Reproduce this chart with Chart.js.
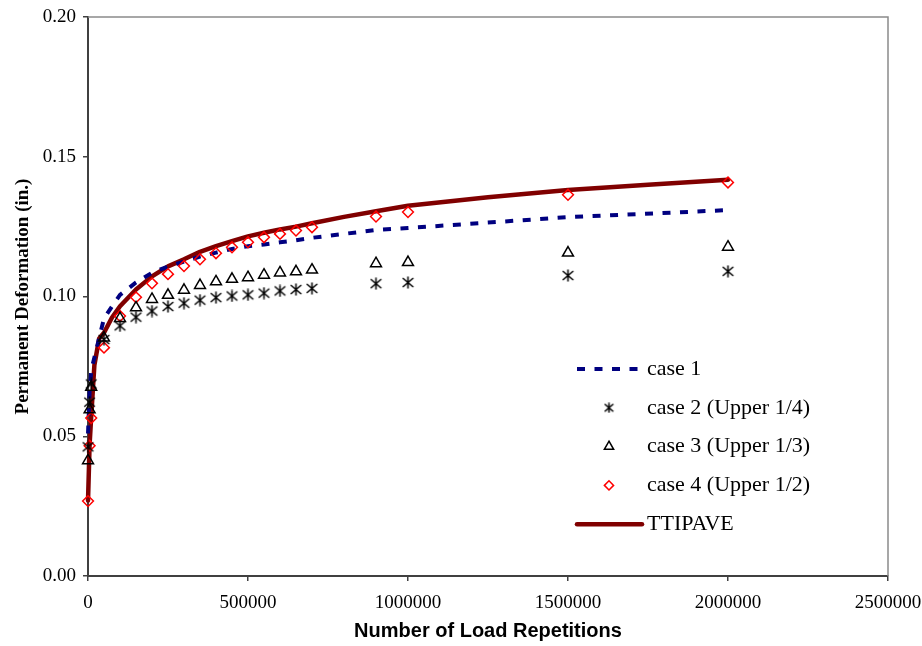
<!DOCTYPE html>
<html>
<head>
<meta charset="utf-8">
<script src="https://cdn.jsdelivr.net/npm/chart.js@4.4.1/dist/chart.umd.min.js"></script>
<style>
  html, body { margin: 0; padding: 0; background: #ffffff; }
  #wrap { width: 922px; height: 646px; position: relative; }
</style>
</head>
<body>
<div id="wrap"><canvas id="chart" width="922" height="646"></canvas></div>
<script>
// Load repetitions at which the permanent deformation was measured
const loadReps = [100, 5000, 10000, 50000, 100000, 150000, 200000, 250000, 300000, 350000,
  400000, 450000, 500000, 550000, 600000, 650000, 700000, 900000, 1000000, 1500000, 2000000];

// Permanent deformation (in.) for each case
const case1 = [0.0510, 0.0660, 0.0735, 0.0922, 0.1006, 0.1050, 0.1085, 0.1107, 0.1125, 0.1143,
  0.1157, 0.1170, 0.1180, 0.1186, 0.1194, 0.1201, 0.1210, 0.1238, 0.1245, 0.1284, 0.1309];
const case2 = [0.0462, 0.0622, 0.0687, 0.0846, 0.0895, 0.0926, 0.0948, 0.0964, 0.0976, 0.0987,
  0.0996, 0.1002, 0.1006, 0.1012, 0.1020, 0.1025, 0.1029, 0.1046, 0.1050, 0.1075, 0.1090];
const case3 = [0.0413, 0.0595, 0.0676, 0.0852, 0.0922, 0.0960, 0.0990, 0.1005, 0.1023, 0.1040,
  0.1053, 0.1062, 0.1068, 0.1077, 0.1085, 0.1089, 0.1095, 0.1118, 0.1122, 0.1156, 0.1177];
const case4 = [0.0268, 0.0466, 0.0565, 0.0817, 0.0930, 0.0997, 0.1047, 0.1080, 0.1109, 0.1133,
  0.1155, 0.1176, 0.1194, 0.1212, 0.1224, 0.1236, 0.1248, 0.1286, 0.1302, 0.1364, 0.1408];

// TTIPAVE prediction curve
const ttipaveReps = [100, 5000, 10000, 20000, 35000, 50000, 75000, 100000, 150000, 200000,
  250000, 300000, 350000, 400000, 450000, 500000, 550000, 600000, 650000, 700000, 800000,
  900000, 1000000, 1250000, 1500000, 1750000, 2000000];
const ttipave = [0.0270, 0.0470, 0.0570, 0.0755, 0.0850, 0.0870, 0.0925, 0.0965, 0.1025, 0.1072,
  0.1108, 0.1133, 0.1160, 0.1180, 0.1198, 0.1215, 0.1228, 0.1240, 0.1250, 0.1262, 0.1285,
  0.1305, 0.1325, 0.1355, 0.1381, 0.1400, 0.1418];

const seriesNames = ['case 1', 'case 2 (Upper 1/4)', 'case 3 (Upper 1/3)', 'case 4 (Upper 1/2)', 'TTIPAVE'];
const xTicks = [0, 500000, 1000000, 1500000, 2000000, 2500000];
const yTicks = [0, 0.05, 0.10, 0.15, 0.20];

const pts = (xs, ys) => xs.map((x, i) => ({ x: x, y: ys[i] }));

// Star marker: an X crossed by a vertical stroke
function starMarker(size) {
  const c = document.createElement('canvas');
  c.width = size; c.height = size;
  const g = c.getContext('2d');
  const m = size / 2, e = 0.6, d = size * 0.12;
  g.strokeStyle = '#000000';
  g.lineWidth = 1.5;
  g.beginPath();
  g.moveTo(m, e); g.lineTo(m, size - e);
  g.moveTo(e + 0.6, d + 0.4); g.lineTo(size - e - 0.6, size - d - 0.4);
  g.moveTo(size - e - 0.6, d + 0.4); g.lineTo(e + 0.6, size - d - 0.4);
  g.stroke();
  return c;
}
const star = starMarker(13);
const starSmall = starMarker(11);

// Legend box drawn inside the plot area
const legendLayout = { lineX0: 577, lineX1: 642, markX: 609, textX: 647, rowY0: 369, rowStep: 38.8 };

const legendInside = {
  id: 'legendInside',
  afterDraw(chart) {
    const ctx = chart.ctx;
    const L = legendLayout;
    chart.data.datasets.forEach((ds, i) => {
      const y = L.rowY0 + i * L.rowStep;
      ctx.save();
      if (ds.showLine) {
        ctx.strokeStyle = ds.borderColor;
        ctx.lineWidth = ds.borderWidth;
        ctx.setLineDash(ds.borderDash || []);
        ctx.lineCap = ds.borderCapStyle || 'butt';
        ctx.beginPath();
        ctx.moveTo(L.lineX0, y);
        ctx.lineTo(L.lineX1, y);
        ctx.stroke();
      } else {
        ctx.strokeStyle = ds.pointBorderColor;
        ctx.fillStyle = ds.pointBackgroundColor;
        ctx.lineWidth = ds.pointBorderWidth;
        const style = ds.pointStyle === star ? starSmall : ds.pointStyle;
        Chart.helpers.drawPoint(ctx, {
          pointStyle: style, radius: ds.pointRadius * 0.85,
          borderWidth: ds.pointBorderWidth, rotation: 0
        }, L.markX, y);
      }
      ctx.setLineDash([]);
      ctx.fillStyle = '#000000';
      ctx.font = '22px "Liberation Serif", "Times New Roman", serif';
      ctx.textBaseline = 'middle';
      ctx.textAlign = 'left';
      ctx.fillText(ds.label, L.textX, y);
      ctx.restore();
    });
  }
};

// Thin grey frame on the top and right of the plot area
const plotFrame = {
  id: 'plotFrame',
  beforeDatasetsDraw(chart) {
    const { ctx, chartArea: a } = chart;
    ctx.save();
    ctx.strokeStyle = '#8a8a8a';
    ctx.lineWidth = 1.5;
    ctx.beginPath();
    ctx.moveTo(a.left, a.top);
    ctx.lineTo(a.right, a.top);
    ctx.lineTo(a.right, a.bottom);
    ctx.stroke();
    ctx.restore();
  }
};

const markerSet = (label, values, style, color, radius, order) => ({
  label: label,
  data: pts(loadReps, values),
  showLine: false,
  pointStyle: style,
  pointRadius: radius,
  pointHoverRadius: radius,
  pointBorderWidth: 1.5,
  pointBorderColor: color,
  pointBackgroundColor: 'rgba(0,0,0,0)',
  borderColor: color,
  clip: false,
  order: order
});

new Chart(document.getElementById('chart'), {
  type: 'scatter',
  data: {
    datasets: [
      {
        label: seriesNames[0],
        data: pts(loadReps, case1),
        showLine: true,
        borderColor: '#000080',
        borderWidth: 4,
        borderDash: [8, 9.5],
        borderCapStyle: 'butt',
        pointRadius: 0,
        pointHoverRadius: 0,
        tension: 0,
        clip: false,
        order: 4
      },
      markerSet(seriesNames[1], case2, star, '#000000', 6.5, 1),
      markerSet(seriesNames[2], case3, 'triangle', '#000000', 6.3, 2),
      markerSet(seriesNames[3], case4, 'rectRot', '#ff0000', 5.4, 3),
      {
        label: seriesNames[4],
        data: pts(ttipaveReps, ttipave),
        showLine: true,
        borderColor: '#800000',
        borderWidth: 4.5,
        borderCapStyle: 'round',
        borderJoinStyle: 'round',
        pointRadius: 0,
        pointHoverRadius: 0,
        tension: 0,
        clip: false,
        order: 5
      }
    ]
  },
  options: {
    responsive: false,
    animation: false,
    events: [],
    layout: { padding: { left: 0, top: 17, right: 34, bottom: 0 } },
    plugins: {
      legend: { display: false },
      tooltip: { enabled: false },
      title: { display: false }
    },
    scales: {
      x: {
        type: 'linear',
        min: 0,
        max: 2500000,
        afterBuildTicks: s => { s.ticks = xTicks.map(v => ({ value: v })); },
        afterFit: s => { s.height = 70; s.paddingLeft = 0; s.paddingRight = 0; },
        border: { display: true, color: '#404040', width: 2 },
        grid: { drawOnChartArea: false, drawTicks: true, tickLength: 5, color: '#404040', lineWidth: 1.5 },
        ticks: {
          padding: 11,
          maxRotation: 0,
          autoSkip: false,
          color: '#000000',
          font: { family: '"Liberation Serif", "Times New Roman", serif', size: 19 },
          callback: v => String(v)
        },
        title: {
          display: true,
          text: 'Number of Load Repetitions',
          color: '#000000',
          padding: { top: 0, bottom: 3 },
          font: { family: '"Liberation Sans", Arial, sans-serif', size: 20, weight: 'bold' }
        }
      },
      y: {
        type: 'linear',
        min: 0,
        max: 0.2,
        afterBuildTicks: s => { s.ticks = yTicks.map(v => ({ value: v })); },
        afterFit: s => { s.width = 88; s.paddingTop = 0; s.paddingBottom = 0; },
        border: { display: true, color: '#404040', width: 2 },
        grid: { drawOnChartArea: false, drawTicks: true, tickLength: 5, color: '#404040', lineWidth: 1.5 },
        ticks: {
          padding: 7,
          color: '#000000',
          font: { family: '"Liberation Serif", "Times New Roman", serif', size: 19 },
          callback: v => Number(v).toFixed(2)
        },
        title: {
          display: true,
          text: 'Permanent Deformation (in.)',
          color: '#000000',
          padding: { top: 12, bottom: 0 },
          font: { family: '"Liberation Serif", "Times New Roman", serif', size: 19, weight: 'bold' }
        }
      }
    }
  },
  plugins: [plotFrame, legendInside]
});
</script>
</body>
</html>
